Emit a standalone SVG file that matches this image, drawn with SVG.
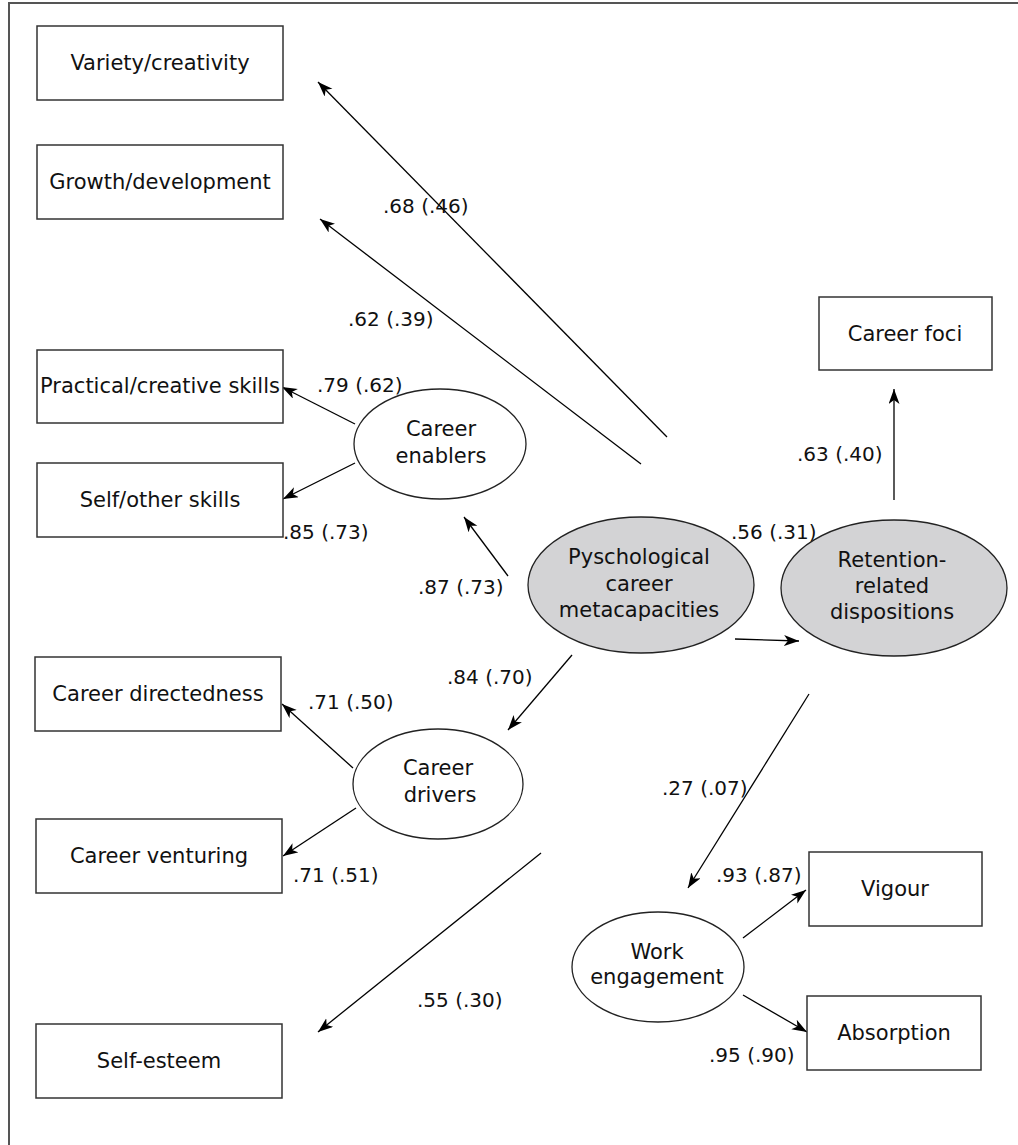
<svg xmlns="http://www.w3.org/2000/svg" width="1018" height="1145" viewBox="0 0 1018 1145">
<defs>
<marker id="ah" markerUnits="userSpaceOnUse" markerWidth="16" markerHeight="12" refX="15" refY="5.5" orient="auto">
<path d="M0,0 L15,5.5 L0,11 L4,5.5 z" fill="#000"/>
</marker>
<style>
.box{fill:#fff;stroke:#333;stroke-width:1.5}
.lat{fill:#fff;stroke:#222;stroke-width:1.3}
.core{fill:#d3d3d5;stroke:#222;stroke-width:1.3}
.t{font-family:"DejaVu Sans","Liberation Sans",sans-serif;font-size:21px;fill:#111;text-anchor:middle}
.l{font-family:"DejaVu Sans","Liberation Sans",sans-serif;font-size:20px;fill:#111}
.c{stroke:#000;stroke-width:1.3;fill:none;marker-end:url(#ah)}
.frame{stroke:#555;stroke-width:2;fill:none}
</style>
</defs>
<rect width="1018" height="1145" fill="#fff"/>
<path class="frame" d="M9,1145 L9,3 L1018,3"/>

<g id="connectors">
<line class="c" x1="667" y1="437" x2="318" y2="82"/>
<line class="c" x1="641" y1="464" x2="320" y2="219"/>
<line class="c" x1="355" y1="424" x2="282" y2="387"/>
<line class="c" x1="355" y1="463" x2="283" y2="499"/>
<line class="c" x1="508" y1="576" x2="464" y2="517"/>
<line class="c" x1="572" y1="655" x2="508" y2="730"/>
<line class="c" x1="735" y1="639" x2="799" y2="641"/>
<line class="c" x1="894" y1="500" x2="894" y2="389"/>
<line class="c" x1="809" y1="694" x2="688" y2="888"/>
<line class="c" x1="353" y1="768" x2="282" y2="704"/>
<line class="c" x1="356" y1="808" x2="283" y2="856"/>
<line class="c" x1="541" y1="853" x2="318" y2="1032"/>
<line class="c" x1="743" y1="938" x2="806" y2="890"/>
<line class="c" x1="743" y1="995" x2="807" y2="1032"/>
</g>

<g id="labels">
<text class="l" x="383" y="213">.68 (.46)</text>
<text class="l" x="348" y="326">.62 (.39)</text>
<text class="l" x="317" y="392">.79 (.62)</text>
<text class="l" x="283" y="539">.85 (.73)</text>
<text class="l" x="418" y="594">.87 (.73)</text>
<text class="l" x="731" y="539">.56 (.31)</text>
<text class="l" x="797" y="461">.63 (.40)</text>
<text class="l" x="447" y="684">.84 (.70)</text>
<text class="l" x="308" y="709">.71 (.50)</text>
<text class="l" x="293" y="882">.71 (.51)</text>
<text class="l" x="417" y="1007">.55 (.30)</text>
<text class="l" x="662" y="795">.27 (.07)</text>
<text class="l" x="716" y="882">.93 (.87)</text>
<text class="l" x="709" y="1062">.95 (.90)</text>
</g>

<g id="variety"><rect class="box" x="37" y="26" width="246" height="74"/><text class="t" x="160" y="70">Variety/creativity</text></g>
<g id="growth"><rect class="box" x="37" y="145" width="246" height="74"/><text class="t" x="160" y="189">Growth/development</text></g>
<g id="practical"><rect class="box" x="37" y="350" width="246" height="73"/><text class="t" x="160" y="393">Practical/creative skills</text></g>
<g id="selfother"><rect class="box" x="37" y="463" width="246" height="74"/><text class="t" x="160" y="507">Self/other skills</text></g>
<g id="directedness"><rect class="box" x="35" y="657" width="246" height="74"/><text class="t" x="158" y="701">Career directedness</text></g>
<g id="venturing"><rect class="box" x="36" y="819" width="246" height="74"/><text class="t" x="159" y="863">Career venturing</text></g>
<g id="selfesteem"><rect class="box" x="36" y="1024" width="246" height="74"/><text class="t" x="159" y="1068">Self-esteem</text></g>
<g id="careerfoci"><rect class="box" x="819" y="297" width="173" height="73"/><text class="t" x="905" y="341">Career foci</text></g>
<g id="vigour"><rect class="box" x="809" y="852" width="173" height="74"/><text class="t" x="895" y="896">Vigour</text></g>
<g id="absorption"><rect class="box" x="807" y="996" width="174" height="74"/><text class="t" x="894" y="1040">Absorption</text></g>

<g id="enablers"><ellipse class="lat" cx="440" cy="444" rx="86" ry="55"/><text class="t" x="441" y="436">Career</text><text class="t" x="441" y="463">enablers</text></g>
<g id="drivers"><ellipse class="lat" cx="438" cy="784" rx="85" ry="55"/><text class="t" x="438" y="775">Career</text><text class="t" x="440" y="802">drivers</text></g>
<g id="workengagement"><ellipse class="lat" cx="658" cy="967" rx="86" ry="55"/><text class="t" x="657" y="959">Work</text><text class="t" x="657" y="984">engagement</text></g>
<g id="psycap"><ellipse class="core" cx="641" cy="585" rx="113" ry="68"/><text class="t" x="639" y="564">Pyschological</text><text class="t" x="639" y="591">career</text><text class="t" x="639" y="617">metacapacities</text></g>
<g id="retention"><ellipse class="core" cx="894" cy="588" rx="113" ry="68"/><text class="t" x="892" y="567">Retention-</text><text class="t" x="892" y="593">related</text><text class="t" x="892" y="619">dispositions</text></g>
</svg>
